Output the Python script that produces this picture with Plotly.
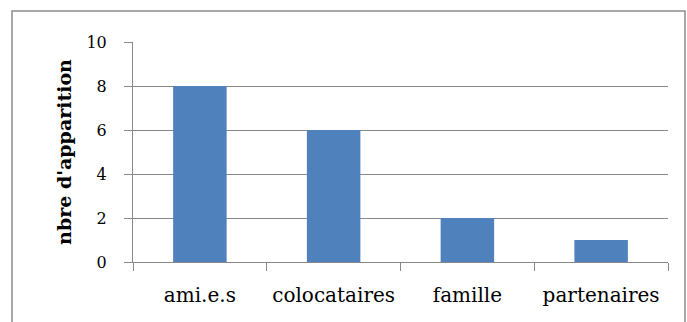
import plotly.graph_objects as go

categories = ["ami.e.s", "colocataires", "famille", "partenaires"]
values = [8, 6, 2, 1]
y_ticks = [0, 2, 4, 6, 8, 10]

W, H = 687, 322
L, R, T, B = 133, 19, 42, 60
pw, ph = W - L - R, H - T - B

fig = go.Figure(go.Bar(x=categories, y=values, marker=dict(color="#4F81BD", line=dict(width=0)), width=0.4))

font = "DejaVu Serif, serif"
fig.update_layout(
    width=W, height=H,
    margin=dict(l=L, r=R, t=T, b=B, pad=0),
    paper_bgcolor="white", plot_bgcolor="white",
    showlegend=False,
    font=dict(family=font, color="black"),
    xaxis=dict(
        type="category", tickson="boundaries", ticks="outside", ticklen=8, tickcolor="#888888",
        showline=True, linecolor="#888888", linewidth=1, showgrid=False,
        tickfont=dict(size=20, family=font), range=[-0.5, 3.5], ticklabelstandoff=15,
    ),
    yaxis=dict(
        range=[0, 10], tickvals=y_ticks, ticks="outside", ticklen=8, tickcolor="#888888",
        showline=True, linecolor="#888888", linewidth=1,
        showgrid=True, gridcolor="#888888", gridwidth=1, zeroline=False,
        tickfont=dict(size=16, family=font), ticklabelstandoff=14,
        title=dict(text="<b>nbre d'apparition</b>", font=dict(size=19, family=font), standoff=9),
    ),
    shapes=[dict(
        type="rect", xref="paper", yref="paper",
        x0=(12 - L) / pw, x1=(685 - L) / pw,
        y0=-(340 - (H - B)) / ph, y1=1 + (T - 11) / ph,
        line=dict(color="#8c8c8c", width=1.5), fillcolor="rgba(0,0,0,0)", layer="below",
    )],
)

fig.write_html("out.html", config={"displayModeBar": False},
               post_script="document.body.style.margin='0';document.body.style.overflow='hidden';")
